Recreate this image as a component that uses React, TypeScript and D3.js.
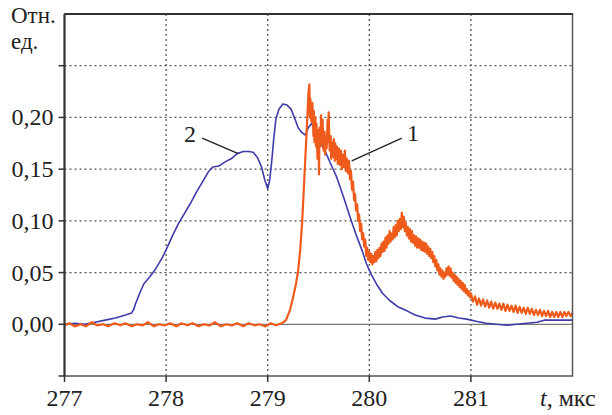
import React from 'react';
import * as d3 from 'd3';

// curve 1 (orange): time in us, relative units
const series1: [number, number][] = [
  [277.0, -0.001], [277.05, 0.001], [277.1, -0.002], [277.16, 0.0], [277.21, -0.002],
  [277.27, 0.002], [277.32, -0.001], [277.38, 0.0], [277.43, -0.002], [277.49, 0.001],
  [277.55, -0.001], [277.6, 0.001], [277.66, -0.002], [277.71, 0.0], [277.77, -0.001],
  [277.82, 0.002], [277.88, -0.002], [277.93, 0.0], [277.99, -0.001], [278.04, 0.001],
  [278.1, -0.002], [278.15, 0.001], [278.21, -0.001], [278.26, 0.001], [278.32, -0.002],
  [278.37, 0.0], [278.43, -0.001], [278.48, 0.002], [278.54, -0.002], [278.59, 0.0],
  [278.65, -0.001], [278.7, 0.001], [278.76, -0.002], [278.81, 0.001], [278.87, -0.001],
  [278.92, 0.0], [278.98, -0.002], [279.03, 0.001], [279.08, -0.001], [279.14, 0.001],
  [279.18, 0.004],
  [279.22, 0.014], [279.25, 0.026], [279.28, 0.04], [279.3, 0.052], [279.32, 0.072],
  [279.34, 0.1], [279.36, 0.14], [279.38, 0.18], [279.39, 0.2], [279.4, 0.222],
  [279.41, 0.232], [279.415, 0.2], [279.42, 0.218], [279.43, 0.196], [279.44, 0.214],
  [279.45, 0.182], [279.455, 0.206], [279.46, 0.176], [279.47, 0.2], [279.475, 0.172],
  [279.48, 0.194], [279.49, 0.16], [279.5, 0.188], [279.505, 0.145], [279.51, 0.19],
  [279.52, 0.172], [279.525, 0.202], [279.53, 0.175], [279.54, 0.198], [279.55, 0.168],
  [279.56, 0.186], [279.565, 0.164], [279.57, 0.18], [279.58, 0.17], [279.59, 0.198],
  [279.595, 0.176], [279.6, 0.205], [279.61, 0.168], [279.62, 0.182], [279.625, 0.16],
  [279.63, 0.176], [279.64, 0.162], [279.65, 0.179], [279.66, 0.158], [279.665, 0.175],
  [279.67, 0.16], [279.68, 0.172], [279.69, 0.155], [279.7, 0.17], [279.71, 0.154],
  [279.72, 0.168], [279.73, 0.15], [279.74, 0.164], [279.75, 0.152], [279.76, 0.168],
  [279.77, 0.148], [279.78, 0.16], [279.79, 0.146], [279.8, 0.158], [279.81, 0.14],
  [279.82, 0.148], [279.83, 0.13], [279.84, 0.138], [279.85, 0.12], [279.86, 0.126],
  [279.87, 0.11], [279.88, 0.116], [279.89, 0.1], [279.9, 0.106], [279.91, 0.09],
  [279.92, 0.097], [279.93, 0.082], [279.94, 0.088], [279.95, 0.075], [279.96, 0.082],
  [279.97, 0.066], [279.98, 0.074], [279.99, 0.062], [280.0, 0.07], [280.01, 0.06],
  [280.02, 0.068], [280.03, 0.058], [280.04, 0.066], [280.05, 0.06], [280.06, 0.07],
  [280.07, 0.061], [280.08, 0.072], [280.09, 0.064], [280.1, 0.074], [280.11, 0.066],
  [280.12, 0.078], [280.13, 0.07], [280.14, 0.08], [280.15, 0.071], [280.16, 0.084],
  [280.17, 0.074], [280.18, 0.086], [280.19, 0.078], [280.2, 0.09], [280.21, 0.08],
  [280.22, 0.088], [280.23, 0.082], [280.24, 0.094], [280.25, 0.084], [280.26, 0.096],
  [280.27, 0.086], [280.28, 0.1], [280.29, 0.09], [280.3, 0.102], [280.31, 0.092],
  [280.32, 0.108], [280.33, 0.094], [280.34, 0.104], [280.35, 0.09], [280.36, 0.098],
  [280.37, 0.086], [280.38, 0.094], [280.39, 0.083], [280.4, 0.092], [280.41, 0.08],
  [280.42, 0.09], [280.43, 0.079], [280.44, 0.086], [280.45, 0.076], [280.46, 0.085],
  [280.47, 0.074], [280.48, 0.083], [280.49, 0.074], [280.5, 0.082], [280.51, 0.072],
  [280.52, 0.08], [280.53, 0.071], [280.54, 0.079], [280.55, 0.07], [280.56, 0.078],
  [280.57, 0.068], [280.58, 0.075], [280.59, 0.066], [280.6, 0.073], [280.61, 0.064],
  [280.62, 0.07], [280.63, 0.06], [280.64, 0.066], [280.65, 0.056], [280.66, 0.062],
  [280.67, 0.052], [280.68, 0.058], [280.69, 0.048], [280.7, 0.054], [280.71, 0.046],
  [280.72, 0.052], [280.73, 0.044], [280.74, 0.05], [280.75, 0.046], [280.76, 0.054],
  [280.77, 0.048], [280.78, 0.056], [280.79, 0.047], [280.8, 0.054], [280.81, 0.045],
  [280.82, 0.05], [280.83, 0.042], [280.84, 0.048], [280.85, 0.04], [280.86, 0.046],
  [280.87, 0.038], [280.88, 0.044], [280.89, 0.036], [280.9, 0.042], [280.91, 0.034],
  [280.92, 0.04], [280.93, 0.032], [280.94, 0.038], [280.95, 0.03], [280.96, 0.034],
  [280.97, 0.028], [280.98, 0.032], [280.99, 0.026], [281.0, 0.03], [281.02, 0.022],
  [281.04, 0.027], [281.06, 0.019], [281.08, 0.025], [281.1, 0.018], [281.12, 0.024],
  [281.14, 0.017], [281.16, 0.023], [281.18, 0.016], [281.2, 0.022], [281.22, 0.015],
  [281.24, 0.021], [281.26, 0.015], [281.28, 0.02], [281.3, 0.014], [281.32, 0.02],
  [281.34, 0.013], [281.36, 0.019], [281.38, 0.013], [281.4, 0.018], [281.42, 0.012],
  [281.44, 0.018], [281.46, 0.011], [281.48, 0.017], [281.5, 0.011], [281.52, 0.016],
  [281.54, 0.01], [281.56, 0.016], [281.58, 0.01], [281.6, 0.015], [281.62, 0.009],
  [281.64, 0.014], [281.66, 0.009], [281.68, 0.014], [281.7, 0.008], [281.72, 0.013],
  [281.74, 0.008], [281.76, 0.013], [281.78, 0.007], [281.8, 0.012], [281.82, 0.007],
  [281.84, 0.012], [281.86, 0.007], [281.88, 0.012], [281.9, 0.007], [281.92, 0.012],
  [281.94, 0.008], [281.96, 0.012], [281.98, 0.008], [282.0, 0.011],
];

// curve 2 (blue)
const series2: [number, number][] = [
  [277.0, 0.0], [277.1, 0.001], [277.2, 0.0], [277.3, 0.002], [277.4, 0.004],
  [277.5, 0.006], [277.6, 0.009], [277.66, 0.011], [277.68, 0.014], [277.7, 0.02],
  [277.74, 0.03], [277.78, 0.039], [277.84, 0.046], [277.9, 0.054], [277.96, 0.064],
  [278.0, 0.072], [278.06, 0.085], [278.12, 0.097], [278.18, 0.107], [278.24, 0.117],
  [278.3, 0.128], [278.36, 0.138], [278.42, 0.148], [278.46, 0.152], [278.52, 0.153],
  [278.58, 0.157], [278.64, 0.16], [278.7, 0.165], [278.76, 0.167], [278.82, 0.167],
  [278.86, 0.166], [278.9, 0.161], [278.94, 0.152], [278.97, 0.14], [279.0, 0.131],
  [279.02, 0.14], [279.04, 0.158], [279.06, 0.18], [279.08, 0.198], [279.11, 0.208],
  [279.15, 0.213], [279.19, 0.212], [279.23, 0.208], [279.27, 0.198], [279.3, 0.19],
  [279.33, 0.186], [279.37, 0.183], [279.4, 0.19], [279.43, 0.194], [279.46, 0.19],
  [279.5, 0.182], [279.54, 0.172], [279.58, 0.164], [279.63, 0.153], [279.68, 0.142],
  [279.73, 0.128], [279.78, 0.113], [279.83, 0.098], [279.88, 0.084], [279.93, 0.071],
  [279.97, 0.059], [280.02, 0.048], [280.07, 0.039], [280.13, 0.03], [280.2, 0.023],
  [280.28, 0.017], [280.37, 0.013], [280.45, 0.009], [280.55, 0.006], [280.65, 0.005],
  [280.72, 0.007], [280.8, 0.008], [280.88, 0.006], [280.96, 0.005], [281.05, 0.003],
  [281.15, 0.001], [281.25, 0.0], [281.35, -0.001], [281.45, 0.0], [281.55, 0.001],
  [281.65, 0.002], [281.72, 0.004], [281.8, 0.004], [281.9, 0.004], [282.0, 0.004],
];

const xTicks = [277, 278, 279, 280, 281];
const xGrid = [278, 279, 280, 281];
const yTicks = [0, 0.05, 0.1, 0.15, 0.2];
const yTickMarks = [-0.05, 0, 0.05, 0.1, 0.15, 0.2, 0.25];
const yGrid = [0.05, 0.1, 0.15, 0.2, 0.25];

// curve labels: text position and pointer from/to, in data units
const callouts = [
  { text: '2', at: [278.235, 0.184], from: [278.355, 0.18], to: [278.71, 0.165] },
  { text: '1', at: [280.43, 0.185], from: [280.32, 0.18], to: [279.827, 0.158] },
];

const W = 612;
const H = 415;
const txt = { fontFamily: '"Liberation Serif"', fontSize: 24, fill: '#222' };
const unitTxt = { ...txt, fontSize: 23 };
const fmt = (v: number) => d3.format('.2f')(v).replace('.', ',');

export default function App() {
  const x = d3.scaleLinear().domain([277, 282]).range([64.5, 572.5]);
  const y = d3.scaleLinear().domain([-0.05, 0.3]).range([376, 14]);
  const line = d3
    .line<[number, number]>()
    .x((d) => x(d[0]))
    .y((d) => y(d[1]));

  const [x0, x1] = x.range();
  const [y0, y1] = y.range();

  return (
    <svg width={W} height={H} style={{ position: 'absolute', left: 0, top: 0, background: '#fff' }}>
      {/* dotted grid */}
      <g stroke="#555" strokeWidth={1.3} strokeDasharray="2,3">
        {xGrid.map((t) => (
          <line key={'gx' + t} x1={x(t)} x2={x(t)} y1={y1} y2={y0} />
        ))}
        {yGrid.map((v) => (
          <line key={'gy' + v} x1={x0} x2={x1} y1={y(v)} y2={y(v)} />
        ))}
      </g>
      <line x1={x0} x2={x1} y1={y(0)} y2={y(0)} stroke="#777" strokeWidth={1.3} />

      {/* curves */}
      <path d={line(series2) ?? ''} fill="none" stroke="#3f3caa" strokeWidth={1.6} strokeLinejoin="round" />
      <path d={line(series1) ?? ''} fill="none" stroke="#ee5b1b" strokeWidth={2.2} strokeLinejoin="round" />

      {/* frame */}
      <rect x={x0} y={y1} width={x1 - x0} height={y0 - y1} fill="none" stroke="#555" strokeWidth={1.5} />
      <line x1={x0} x2={x0} y1={y1} y2={y0} stroke="#333" strokeWidth={2} />
      <line x1={x0} x2={x1} y1={y1} y2={y1} stroke="#333" strokeWidth={2} />

      {/* ticks */}
      <g stroke="#333" strokeWidth={1.5}>
        {yTickMarks.map((v) => (
          <line key={'ty' + v} x1={x0 - 6} x2={x0} y1={y(v)} y2={y(v)} />
        ))}
        {xTicks.map((t) => (
          <line key={'tx' + t} x1={x(t)} x2={x(t)} y1={y0} y2={y0 + 6} />
        ))}
      </g>
      {yTicks.map((v) => (
        <text key={'ly' + v} x={x0 - 11} y={y(v) + 8} textAnchor="end" style={txt}>
          {fmt(v)}
        </text>
      ))}
      {xTicks.map((t) => (
        <text key={'lx' + t} x={x(t)} y={406} textAnchor="middle" style={txt}>
          {t}
        </text>
      ))}
      <text x={540} y={406} style={txt}>
        <tspan fontStyle="italic">t</tspan>, мкс
      </text>
      <text x={11} y={23} style={unitTxt}>
        Отн.
      </text>
      <text x={11} y={49} style={unitTxt}>
        ед.
      </text>

      {/* callouts */}
      {callouts.map((c) => (
        <g key={c.text}>
          <line
            x1={x(c.from[0])}
            y1={y(c.from[1])}
            x2={x(c.to[0])}
            y2={y(c.to[1])}
            stroke="#222"
            strokeWidth={1.3}
          />
          <text x={x(c.at[0])} y={y(c.at[1]) + 8} textAnchor="middle" style={txt}>
            {c.text}
          </text>
        </g>
      ))}
    </svg>
  );
}
